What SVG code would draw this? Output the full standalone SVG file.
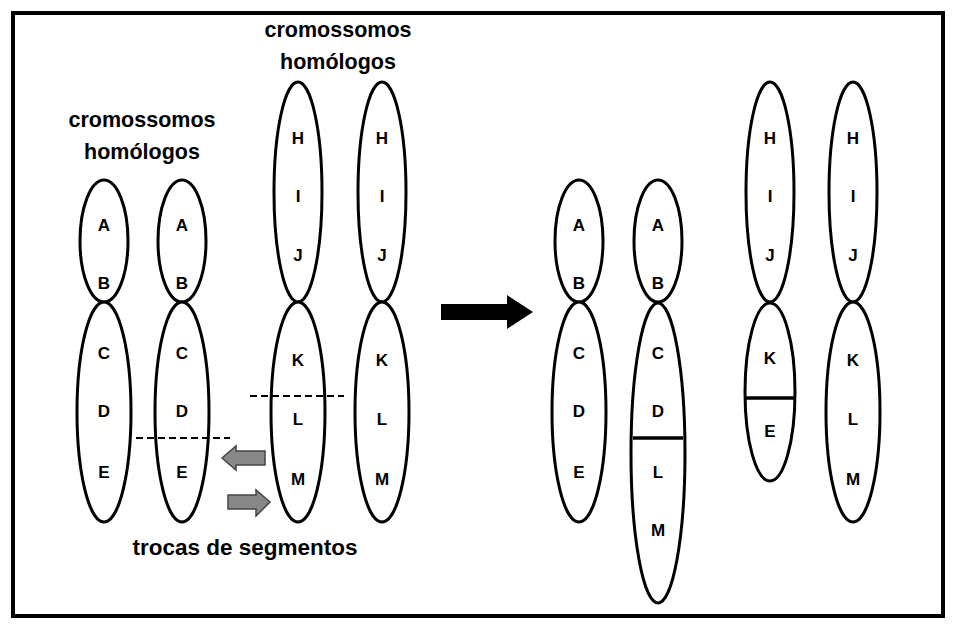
<svg xmlns="http://www.w3.org/2000/svg" width="954" height="629" viewBox="0 0 954 629">
<style>
.c{fill:#fff;stroke:#000;stroke-width:3}
text{font-family:"Liberation Sans",Arial,sans-serif;font-weight:bold;font-size:17px;text-anchor:middle}
.t{font-size:21.5px}
.u{font-size:22.5px}
.d{stroke:#000;stroke-width:2;stroke-dasharray:7,4}
</style>
<rect x="0" y="0" width="954" height="629" fill="#fff"/>
<rect x="13" y="13" width="930" height="603" fill="none" stroke="#000" stroke-width="4"/>
<g id="ch1"><ellipse class="c" cx="104" cy="241" rx="24" ry="61"/><ellipse class="c" cx="104" cy="412" rx="27" ry="110"/>
<text x="104" y="231">A</text><text x="104" y="289">B</text><text x="104" y="359">C</text><text x="104" y="417">D</text><text x="104" y="478">E</text></g>
<g id="ch2"><ellipse class="c" cx="182" cy="241" rx="24" ry="61"/><ellipse class="c" cx="182" cy="412" rx="27" ry="110"/>
<text x="182" y="231">A</text><text x="182" y="289">B</text><text x="182" y="359">C</text><text x="182" y="417">D</text><text x="182" y="478">E</text></g>
<g id="ch3"><ellipse class="c" cx="298" cy="192" rx="24" ry="110"/><ellipse class="c" cx="298" cy="412" rx="27" ry="110"/>
<text x="298" y="144">H</text><text x="298" y="202">I</text><text x="298" y="261">J</text><text x="298" y="366">K</text><text x="298" y="425">L</text><text x="298" y="485">M</text></g>
<g id="ch4"><ellipse class="c" cx="382" cy="192" rx="24" ry="110"/><ellipse class="c" cx="382" cy="412" rx="27" ry="110"/>
<text x="382" y="144">H</text><text x="382" y="202">I</text><text x="382" y="261">J</text><text x="382" y="366">K</text><text x="382" y="425">L</text><text x="382" y="485">M</text></g>
<g id="ch5"><ellipse class="c" cx="579" cy="241" rx="24" ry="61"/><ellipse class="c" cx="579" cy="412" rx="27" ry="110"/>
<text x="579" y="231">A</text><text x="579" y="289">B</text><text x="579" y="359">C</text><text x="579" y="417">D</text><text x="579" y="478">E</text></g>
<g id="ch6"><ellipse class="c" cx="658" cy="241" rx="24" ry="61"/><ellipse class="c" cx="658" cy="453" rx="27" ry="150"/>
<line x1="633" y1="438" x2="683" y2="438" stroke="#000" stroke-width="3.5"/>
<text x="658" y="231">A</text><text x="658" y="289">B</text><text x="658" y="359">C</text><text x="658" y="417">D</text><text x="658" y="478">L</text><text x="658" y="536">M</text></g>
<g id="ch7"><ellipse class="c" cx="770" cy="192" rx="24" ry="110"/><ellipse class="c" cx="770" cy="392" rx="25" ry="89"/>
<line x1="746" y1="398" x2="794" y2="398" stroke="#000" stroke-width="3.5"/>
<text x="770" y="144">H</text><text x="770" y="202">I</text><text x="770" y="261">J</text><text x="770" y="364">K</text><text x="770" y="437">E</text></g>
<g id="ch8"><ellipse class="c" cx="853" cy="192" rx="24" ry="110"/><ellipse class="c" cx="853" cy="412" rx="27" ry="110"/>
<text x="853" y="144">H</text><text x="853" y="202">I</text><text x="853" y="261">J</text><text x="853" y="366">K</text><text x="853" y="425">L</text><text x="853" y="485">M</text></g>
<g id="connectors">
<line class="d" x1="136" y1="438" x2="230" y2="438"/>
<line class="d" x1="250" y1="396" x2="344" y2="396"/>
<polygon points="222,458 236,446 236,451 265,451 265,465 236,465 236,470" fill="#888" stroke="#444" stroke-width="1.5"/>
<polygon points="270,502 256,490 256,495 228,495 228,509 256,509 256,516" fill="#888" stroke="#444" stroke-width="1.5"/>
<polygon points="441,304 507,304 507,295 533,312 507,329 507,320 441,320" fill="#000"/>
</g>
<text class="t" x="142" y="127">cromossomos</text><text class="t" x="142" y="159">homólogos</text>
<text class="t" x="338" y="37">cromossomos</text><text class="t" x="338" y="69">homólogos</text>
<text class="u" x="245" y="555">trocas de segmentos</text>
</svg>
